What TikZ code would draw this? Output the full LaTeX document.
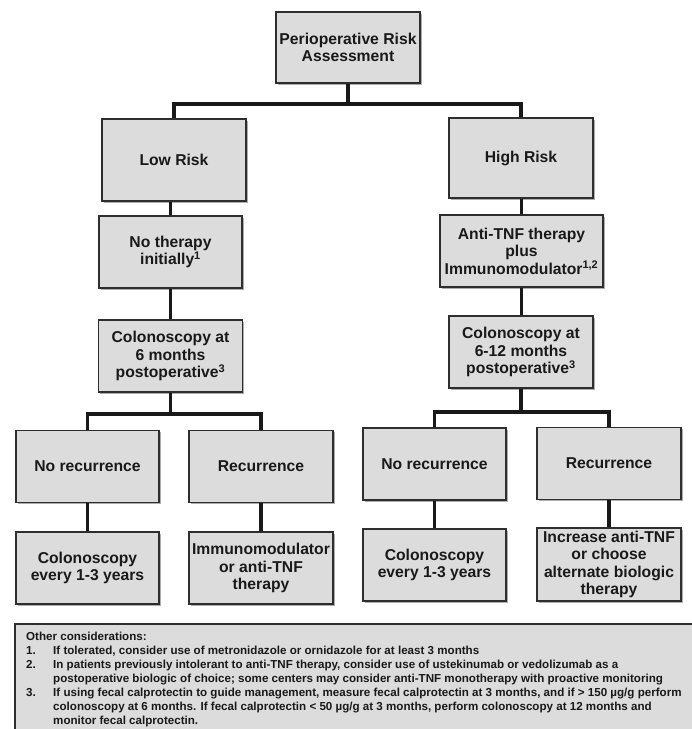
\documentclass[tikz,border=0pt]{standalone}
\usepackage{fontspec}
\setmainfont{Liberation Sans}
\usetikzlibrary{shadows}
\definecolor{boxgray}{HTML}{DCDCDC}
\definecolor{edgegray}{HTML}{2E2E2E}

\begin{document}
\begin{tikzpicture}[x=1pt,y=-1pt,
		box/.style={draw=edgegray,line width=1.2pt,fill=boxgray,minimum width=144pt,minimum height=72pt,inner sep=2pt,align=center,
			font=\fontsize{15.7}{17.6}\selectfont\bfseries,text=black!90,
			drop shadow={shadow xshift=1.6pt,shadow yshift=-1.6pt,fill=black!70,opacity=.45}},
		link/.style={line width=3.4pt,black!90},
		notetext/.style={align=left,inner sep=0pt,font=\fontsize{11.6}{14}\selectfont\bfseries,text=black!90}]
		\useasboundingbox(0,0)rectangle(692,729);
		\fill[white](0,0)rectangle(692,729);
		\node[box,minimum height=71pt](top)at(348,47.5){Perioperative Risk\\Assessment};
		\node[box,minimum height=82pt](low)at(174,160){Low Risk};
		\node[box,minimum height=80pt](high)at(521,158){High Risk};
		\node[box,minimum width=143pt](nother)at(170.5,252){No therapy\\initially\textsuperscript{1}};
		\node[box,minimum width=163pt](anti)at(521.5,251){Anti-TNF therapy\\plus\\Immunomodulator\textsuperscript{1,2}};
		\node[box](colL)at(170.5,356){Colonoscopy at\\6 months\\postoperative\textsuperscript{3}};
		\node[box](colR)at(521,352){Colonoscopy at\\6-12 months\\postoperative\textsuperscript{3}};
		\node[box,minimum width=143pt](norecL)at(87.5,466.5){No recurrence};
		\node[box](recL)at(261,466.5){Recurrence};
		\node[box,minimum width=143pt](norecR)at(434.5,464){No recurrence};
		\node[box](recR)at(609,463.5){Recurrence};
		\node[box,minimum width=143pt](survL)at(87.5,568){Colonoscopy\\every 1-3 years};
		\node[box](immL)at(261,568){Immunomodulator\\or anti-TNF\\therapy};
		\node[box,minimum width=143pt](survR)at(434.5,565){Colonoscopy\\every 1-3 years};
		\node[box,minimum height=73pt](incR)at(609,564.5){Increase anti-TNF\\or choose\\alternate biologic\\therapy};
		\coordinate(busT)at(348,104);
		\coordinate(busL)at(170.5,414);
		\coordinate(busR)at(521,412);
		\draw[link](top.south)--(busT);
		\draw[link](low.north)|-(busT)-|(high.north);
		\draw[link](nother.north)--(nother.north|-low.south);
		\draw[link](anti.north)--(anti.north|-high.south);
		\draw[link](nother.south)--(colL.north);
		\draw[link](anti.south)--(anti.south|-colR.north);
		\draw[link](colL.south)--(busL);
		\draw[link](norecL.north)|-(busL)-|(recL.north);
		\draw[link](colR.south)--(busR);
		\draw[link](norecR.north)|-(busR)-|(recR.north);
		\draw[link](norecL.south)--(survL.north);
		\draw[link](recL.south)--(immL.north);
		\draw[link](norecR.south)--(survR.north);
		\draw[link](recR.south)--(incR.north);
		\draw[draw=edgegray,line width=1.8pt,fill=boxgray](15,624)rectangle(710,745);
		\node[notetext,anchor=north west](notes)at(26,632){Other considerations:\\
			\makebox[27pt][l]{1.}If tolerated, consider use of metronidazole or ornidazole for at least 3 months\\
			\makebox[27pt][l]{2.}In patients previously intolerant to anti-TNF therapy, consider use of ustekinumab or vedolizumab as a\\
			\hspace*{27pt}postoperative biologic of choice; some centers may consider anti-TNF monotherapy with proactive monitoring\\
			\makebox[27pt][l]{3.}If using fecal calprotectin to guide management, measure fecal calprotectin at 3 months, and if > 150 µg/g perform\\
			\hspace*{27pt}colonoscopy at 6 months. If fecal calprotectin < 50 µg/g at 3 months, perform colonoscopy at 12 months and\\
			\hspace*{27pt}monitor fecal calprotectin.};
	\end{tikzpicture}
\end{document}
